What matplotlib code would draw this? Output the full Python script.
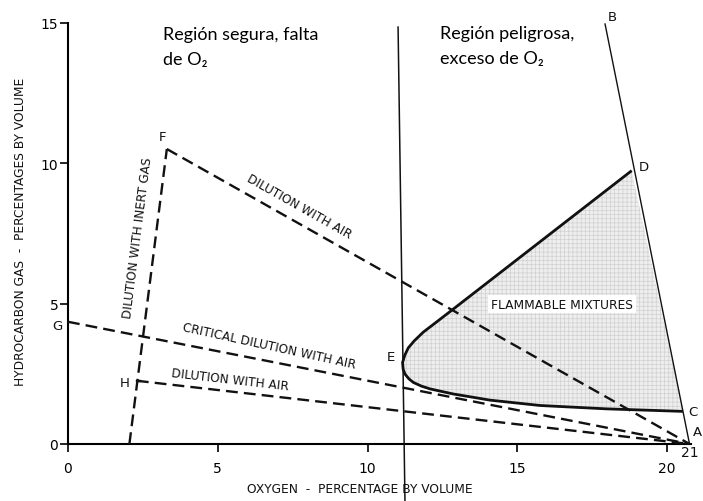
import numpy as np
import matplotlib
matplotlib.use("Agg")
import matplotlib.pyplot as plt

# ---- data ----
pt_A = (20.75, 0.0)
pt_B = (17.93, 14.95)
pt_F = (3.3, 10.5)
pt_F_base = (2.05, 0.0)
pt_G = (0.0, 4.35)
pt_H = (2.3, 2.25)

# flammable envelope: upper branch D -> E, lower branch E -> C
upper_x = [18.82, 12.86, 12.35, 11.86, 11.55, 11.36, 11.24, 11.17]
upper_y = [9.73, 4.80, 4.38, 3.98, 3.66, 3.42, 3.15, 2.90]
lower_x = [11.17, 11.19, 11.25, 11.38, 11.53, 11.80, 12.09, 12.86, 13.76, 14.09, 15.76, 17.98, 20.53]
lower_y = [2.90, 2.66, 2.49, 2.32, 2.19, 2.06, 1.96, 1.78, 1.62, 1.56, 1.37, 1.25, 1.16]

vline_x = [11.02, 11.25]
vline_y = [14.84, -2.03]

x_ticks = [0, 5, 10, 15, 20]
y_ticks = [0, 5, 10, 15]

point_labels = ["A", "B", "C", "D", "E", "F", "G", "H"]
point_label_x = [21.0, 18.16, 20.87, 19.23, 10.78, 3.17, -0.37, 1.9]
point_label_y = [0.43, 15.2, 1.17, 9.86, 3.13, 10.96, 4.23, 2.2]

plt.rcParams['font.family'] = ['DejaVu Sans']

fig = plt.figure(figsize=(7.03, 5.02), dpi=100)
ax = fig.add_axes([0, 0, 1, 1])
ax.set_xlim(-2.27, 21.20)
ax.set_ylim(-2.03, 15.84)

for s in ['top', 'right']:
    ax.spines[s].set_visible(False)
ax.spines['left'].set_position(('data', 0))
ax.spines['bottom'].set_position(('data', 0))
ax.spines['left'].set_bounds(0, 15)
ax.spines['bottom'].set_bounds(0, 20.8)
for s in ['left', 'bottom']:
    ax.spines[s].set_linewidth(1.5)
    ax.spines[s].set_color('black')

ax.set_xticks(x_ticks)
ax.set_yticks(y_ticks)
ax.tick_params(axis='x', direction='out', length=6, width=1.2, pad=6, labelsize=10)
ax.tick_params(axis='y', direction='out', length=6, width=1.2, pad=1, labelsize=10)

ink = '#111111'
dash = (5, 2.6)

# shaded flammable region
env_x = upper_x + lower_x[1:] + [upper_x[0]]
env_y = upper_y + lower_y[1:] + [upper_y[0]]
plt.rcParams['hatch.linewidth'] = 0.5
ax.fill(env_x, env_y, facecolor='#eeeeee', edgecolor='#d0d0d0', hatch='++++', linewidth=0, zorder=1)
ax.plot(upper_x + lower_x[1:], upper_y + lower_y[1:], color=ink, lw=2.0, zorder=4,
        solid_capstyle='butt', solid_joinstyle='round')

# B - A line
ax.plot([pt_B[0], pt_A[0]], [pt_B[1], pt_A[1]], color=ink, lw=1.0, zorder=3)
# vertical separating line
ax.plot(vline_x, vline_y, color=ink, lw=1.1, zorder=3, clip_on=False)

# dashed lines
for p, q in [(pt_F_base, pt_F), (pt_F, pt_A), (pt_G, pt_A), (pt_H, pt_A)]:
    ax.plot([p[0], q[0]], [p[1], q[1]], color=ink, lw=1.7, dashes=dash, zorder=3)
# small tick at H
ax.plot([pt_H[0], pt_H[0] + 0.12], [pt_H[1], pt_H[1]], color=ink, lw=1.7, zorder=3)

def angle_of(p, q):
    a = ax.transData.transform(p)
    b = ax.transData.transform(q)
    return np.degrees(np.arctan2(b[1] - a[1], b[0] - a[0]))

fig.canvas.draw()
lab_kw = dict(fontsize=8.7, ha='center', va='center', rotation_mode='anchor', color=ink)
ax.text(2.33, 7.37, "DILUTION WITH INERT GAS", rotation=angle_of(pt_F_base, pt_F), **lab_kw)
ax.text(7.7, 8.47, "DILUTION WITH AIR", rotation=angle_of(pt_F, pt_A), **lab_kw)
ax.text(6.71, 3.52, "CRITICAL DILUTION WITH AIR", rotation=angle_of(pt_G, pt_A) - 1.2, **lab_kw)
ax.text(5.41, 2.3, "DILUTION WITH AIR", rotation=angle_of(pt_H, pt_A), **lab_kw)
ax.text(16.49, 4.98, "FLAMMABLE MIXTURES", fontsize=8.8, ha='center', va='center', color=ink,
        zorder=5, bbox=dict(facecolor='white', edgecolor='none', pad=2.0))

for lab, lx, ly in zip(point_labels, point_label_x, point_label_y):
    ax.text(lx, ly, lab, fontsize=9.5, ha='center', va='center', color=ink)
ax.text(20.77, -0.28, "21", fontsize=10, ha='center', va='center', color=ink)

# axis titles
ax.text(-1.6, 7.6, "HYDROCARBON GAS  -  PERCENTAGES BY VOLUME", rotation=90,
        fontsize=8.8, ha='center', va='center', color=ink)
ax.text(9.75, -1.6, "OXYGEN  -  PERCENTAGE BY VOLUME", fontsize=8.8,
        ha='center', va='center', color=ink)

# region annotations
reg_kw = dict(fontsize=13, family=['Lato', 'DejaVu Sans'], ha='left', va='baseline', color='black')
ax.text(3.17, 14.41, "Región segura, falta", **reg_kw)
ax.text(3.17, 13.52, "de O₂", **reg_kw)
ax.text(12.42, 14.45, "Región peligrosa,", **reg_kw)
ax.text(12.42, 13.56, "exceso de O₂", **reg_kw)

fig.savefig("out.png", dpi=100)
